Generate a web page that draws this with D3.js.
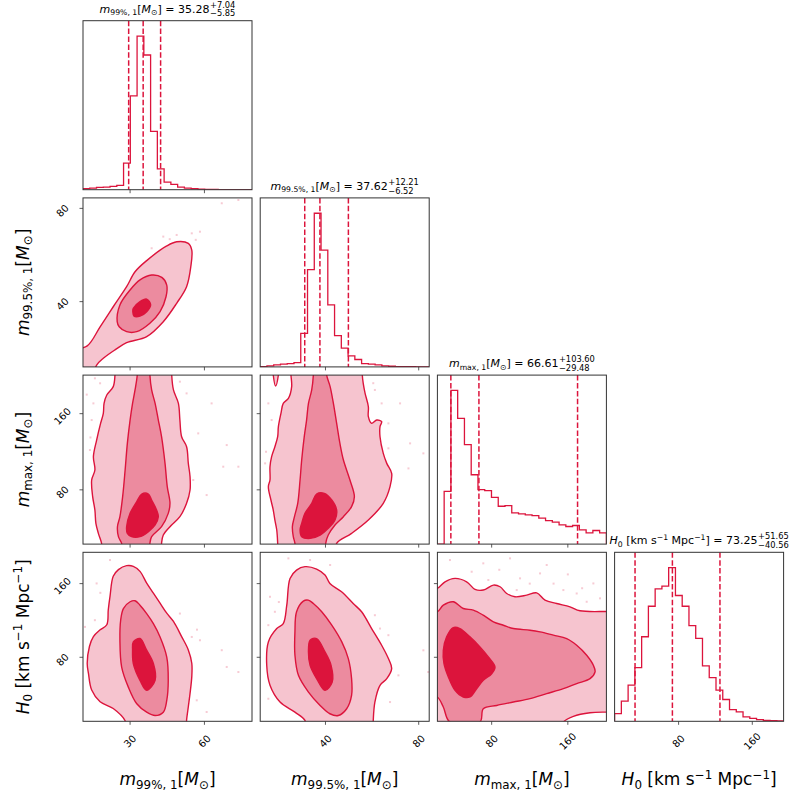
<!DOCTYPE html>
<html>
<head>
<meta charset="utf-8">
<script src="https://cdn.jsdelivr.net/npm/d3@7"></script>
<style>
  body { margin: 0; background: #fff; }
  text { font-family: "DejaVu Sans", sans-serif; white-space: pre; }
</style>
</head>
<body>
<svg id="chart" width="793" height="799"></svg>
<script>
// parameter ranges (axis limits) and ticks, in order m99, m99.5, mmax, H0
const ranges = [[11, 79.2], [12, 84.5], [23, 200.5], [10.5, 194]]
const ticks = [[30, 60], [40, 80], [80, 160], [80, 160]]

// axis labels as math tokens
const labels = [
  [["i", "m"], ["sub", "99%, 1"], ["n", "["], ["i", "M"], ["sub", "⊙"], ["n", "]"]],
  [["i", "m"], ["sub", "99.5%, 1"], ["n", "["], ["i", "M"], ["sub", "⊙"], ["n", "]"]],
  [["i", "m"], ["sub", "max, 1"], ["n", "["], ["i", "M"], ["sub", "⊙"], ["n", "]"]],
  [["i", "H"], ["sub", "0"], ["n", " [km s"], ["sup", "−1"], ["n", " Mpc"], ["sup", "−1"], ["n", "]"]]
]
const medians = ["35.28", "37.62", "66.61", "73.25"]
const errUp = ["+7.04", "+12.21", "+103.60", "+51.65"]
const errDown = ["−5.85", "−6.52", "−29.48", "−40.56"]
const quantiles = [[29.43, 35.28, 42.32], [31.10, 37.62, 49.83], [37.13, 66.61, 170.21], [32.69, 73.25, 124.90]]

// 1D histograms, 25 bins over each range
const hist_m99 = [3, 5, 7, 8, 10, 13, 80, 283, 463, 406, 176, 63, 23, 16, 8, 5, 3, 2, 1, 1, 0.5, 0.5, 0, 0, 0]
const hist_m995 = [1, 3, 6, 8, 10, 13, 100, 290, 458, 348, 185, 93, 56, 33, 22, 10, 8, 6, 3, 2, 1, 1, 0.5, 0, 0]
const hist_mmax = [0, 159, 463, 379, 300, 209, 164, 161, 141, 114, 116, 94, 91, 88, 86, 78, 71, 66, 58, 53, 56, 43, 34, 41, 34]
const hist_H0 = [23, 60, 108, 160, 252, 343, 395, 403, 458, 375, 343, 285, 247, 165, 130, 93, 65, 35, 28, 13, 9, 5, 3, 2, 1]
const hists = [hist_m99, hist_m995, hist_mmax, hist_H0]

// 2D credible contours [outer, middle, inner], each a list of polygons (x, y in data units)
const cont_m995_m99 = [
  [[[5, 18], [12.7, 21.0], [17.9, 29.2], [23.2, 37.8], [28.6, 46.4], [32.0, 52.8], [36.7, 57.6], [44.8, 63.9], [48.8, 65.7], [53.5, 65.0], [54.9, 62.1], [54.5, 55.0], [52.8, 46.4], [48.8, 39.3], [43.4, 31.4], [36.7, 25.0], [28.6, 22.4], [23.9, 19.3], [19.2, 15.7], [16.5, 12.8], [14, 6], [5, 6]]],
  [[[24.8, 31.4], [25.9, 38.6], [30.0, 45.0], [34.0, 49.3], [38.7, 51.4], [42.8, 50.4], [44.8, 47.1], [44.5, 42.1], [42.1, 35.7], [38.0, 30.7], [32.7, 27.1], [28.6, 27.1], [25.6, 29.2]]],
  [[[31.3, 37.1], [34.0, 40.0], [36.7, 41.1], [38.3, 38.6], [36.7, 35.7], [34.0, 33.8], [31.6, 33.8], [31.1, 35.7]]]
]
const cont_mmax_m99 = [
  [[[23.9, 209], [23.9, 200.6], [23.2, 188.4], [20.6, 179.6], [19.5, 170.8], [19.2, 160.3], [18.1, 149.8], [16.5, 132.3], [15.2, 114.8], [15.8, 100.8], [14.5, 90.3], [14.9, 72.8], [15.8, 58.8], [16.2, 44.8], [17.2, 34.3], [18.5, 23.8], [18.8, 15], [42.7, 15], [42.7, 23.8], [43.4, 32.5], [46.1, 41.3], [50.1, 51.8], [52.8, 65.8], [54.2, 79.8], [54.2, 93.8], [53.5, 107.8], [52.8, 125.3], [50.8, 135.8], [50.1, 153.3], [49.5, 170.8], [47.5, 184.9], [46.8, 200.6], [46.8, 209]]],
  [[[32.9, 209], [32.9, 200.6], [32.0, 184.9], [31.0, 170.8], [30.0, 153.3], [28.9, 128.8], [28.0, 100.8], [27.0, 72.8], [25.9, 51.8], [24.9, 41.3], [25.3, 30.8], [26.6, 23.8], [27, 15], [38, 15], [38.0, 23.8], [38.7, 30.8], [42.7, 41.3], [45.4, 55.3], [46.1, 65.8], [45.0, 83.3], [44.1, 107.8], [42.7, 135.8], [41.4, 153.3], [40.1, 170.8], [38.7, 184.9], [38.0, 200.6], [38, 209]]],
  [[[28.6, 41.3], [30.0, 55.3], [32.7, 67.6], [34.7, 75.6], [37.4, 75.6], [38.7, 69.3], [40.7, 58.8], [41.4, 51.8], [40.1, 43.1], [37.4, 36.1], [34.0, 30.8], [30.6, 30.8], [28.9, 34.3]]]
]
const cont_mmax_m995 = [
  [[[25.2, 209], [25.2, 200.6], [25.5, 188.4], [24.1, 176.1], [21.9, 170.8], [20.9, 160.3], [19.8, 146.3], [19.5, 135.8], [18.3, 125.3], [16.9, 114.8], [16.2, 104.3], [16.2, 90.3], [15.5, 83.3], [16.6, 69.3], [17.6, 58.8], [18.3, 48.3], [19.1, 37.8], [19.5, 23.8], [19.6, 15], [44.5, 15], [44.8, 23.8], [51.2, 34.3], [58.4, 48.3], [64.8, 65.8], [67.7, 83.3], [68.4, 97.3], [66.3, 107.8], [64.8, 118.3], [63.4, 135.8], [63.4, 146.3], [64.1, 151.6], [62.0, 153.3], [59.8, 149.8], [58.4, 156.8], [58.4, 167.3], [57.0, 181.3], [56.2, 191.8], [55.8, 200.6], [55.8, 209]],
   [[17.5, 209], [17.6, 200.6], [18.6, 189], [19.8, 200.6], [19.9, 209]]],
  [[[34.8, 209], [34.8, 200.6], [34.1, 184.9], [32.7, 170.8], [31.9, 153.3], [30.9, 135.8], [29.8, 111.3], [29.1, 90.3], [28.1, 65.8], [26.7, 51.8], [25.8, 41.3], [26.2, 30.8], [26.9, 23.8], [27, 15], [40, 15], [40.1, 23.8], [41.2, 32.5], [44.1, 43.1], [47.7, 51.8], [51.2, 62.3], [52.4, 72.8], [50.5, 90.3], [47.7, 111.3], [46.2, 128.8], [44.8, 149.8], [43.4, 170.8], [42.0, 188.4], [40.5, 200.6], [40.5, 209]]],
  [[[29.8, 44.8], [31.2, 55.3], [34.1, 65.8], [36.2, 75.6], [39.5, 76.3], [42.7, 69.3], [44.8, 58.8], [44.1, 48.3], [41.2, 39.6], [37.7, 32.5], [33.4, 29.0], [29.8, 30.8], [29.1, 37.8]]]
]
const cont_H0_m99 = [
  [[[28.5, 2], [28.0, 11.1], [23.2, 24.4], [17.9, 31.7], [14.5, 44.4], [13.2, 62.5], [12.7, 73.4], [13.6, 91.7], [15.2, 102.5], [17.9, 109.8], [20.6, 115.3], [21.2, 131.6], [21.9, 146.1], [23.2, 167.9], [25.3, 175.2], [28.6, 179.5], [31.3, 178.8], [34.0, 173.3], [36.7, 160.6], [39.4, 149.7], [42.1, 138.8], [44.8, 127.9], [47.5, 118.9], [50.8, 102.5], [53.5, 88.0], [54.9, 73.5], [54.9, 59.0], [54.2, 40.8], [53.5, 26.3], [52.8, 11.7], [52.7, 2]]],
  [[[30.0, 140.3], [32.0, 141.4], [34.0, 136.6], [36.7, 127.4], [39.4, 116.6], [42.1, 102.1], [44.8, 80.3], [45.4, 54.9], [44.8, 33.2], [43.4, 20.4], [40.1, 16.8], [36.7, 20.4], [32.7, 29.5], [29.3, 47.6], [26.6, 69.4], [25.9, 98.4], [26.2, 120.2], [27.3, 132.9]]],
  [[[31.3, 96.7], [34.0, 100.4], [36.7, 87.7], [39.4, 73.2], [40.1, 55.0], [36.7, 44.1], [34.0, 55.0], [31.3, 73.2], [31.0, 87.7]]]
]
const cont_H0_m995 = [
  [[[31.5, 2], [31.2, 11.5], [26.9, 20.5], [20.5, 31.4], [16.2, 49.6], [14.8, 71.3], [15.5, 96.7], [19.1, 111.2], [21.9, 116.6], [23.4, 136.6], [24.8, 165.6], [27.6, 174.7], [31.2, 178.4], [36.2, 175.8], [39.8, 169.3], [41.9, 160.2], [46.9, 151.1], [51.9, 138.4], [55.5, 129.4], [59.8, 111.2], [64.1, 93.1], [67.0, 78.6], [68.4, 67.7], [66.3, 56.8], [63.4, 49.6], [61.2, 31.4], [60.5, 11.4], [60.4, 2]]],
  [[[30.5, 141.0], [32.6, 142.1], [34.8, 138.4], [38.4, 129.4], [42.7, 114.9], [47.0, 96.7], [49.8, 78.6], [51.2, 56.8], [51.2, 38.6], [49.1, 24.1], [45.5, 16.8], [41.9, 18.7], [37.7, 27.7], [32.7, 42.2], [28.4, 60.4], [26.9, 82.2], [26.9, 107.6], [27.6, 129.4]]],
  [[[33.4, 98.5], [36.2, 100.3], [39.8, 85.8], [42.4, 71.3], [42.9, 53.2], [39.8, 44.1], [36.2, 56.8], [33.4, 71.3], [32.7, 85.8]]]
]
const cont_H0_mmax = [
  [[[15.2, 154.8], [22.9, 154.8], [31.0, 162.0], [41.5, 165.7], [53.7, 162.0], [62.5, 153.7], [71.2, 153.0], [81.8, 158.4], [88.8, 156.6], [95.8, 149.3], [104.5, 145.7], [116.8, 147.5], [127.3, 150.0], [136.0, 142.1], [148.3, 138.4], [162.3, 134.8], [172.8, 130.5], [200.1, 129.7], [211.3, 129.7], [211.3, 20.5], [200.1, 20.5], [183.3, 19.8], [165.8, 15.8], [155.3, 9.7], [151.8, 0.6], [15.2, 0.6]]],
  [[[15.2, 129.4], [22.9, 129.4], [29.2, 136.6], [39.7, 140.3], [50.2, 133.0], [60.7, 131.2], [71.2, 125.7], [81.8, 118.5], [92.3, 114.8], [102.8, 111.2], [120.3, 109.4], [130.8, 107.6], [144.8, 104.0], [158.8, 100.3], [169.3, 93.1], [179.8, 82.2], [186.8, 71.3], [188.6, 64.1], [183.3, 56.8], [169.3, 51.4], [155.3, 45.9], [137.8, 40.5], [120.3, 35.1], [102.8, 31.4], [85.3, 27.7], [71.2, 24.1], [67.7, 9.6], [36.2, 9.6], [29.2, 26.0], [22.9, 36.9], [15.2, 36.9]]],
  [[[32.7, 102.2], [39.7, 112.3], [46.7, 111.2], [57.2, 102.2], [67.7, 91.3], [76.5, 80.4], [83.5, 69.5], [80.0, 62.2], [71.2, 55.0], [64.2, 45.9], [57.2, 36.9], [50.2, 36.9], [41.5, 44.1], [34.5, 58.7], [29.9, 73.2], [29.2, 87.7]]]
]

// stray samples outside the outer contour
const pts_m995_m99 = [[43.4, 67.9], [48.8, 68.6], [54.9, 69.3], [58.2, 70.0], [52.8, 63.6], [67.0, 82.2], [73.7, 83.6], [38.7, 62.9], [56.5, 66.5], [46, 66.8]]
const pts_mmax_m99 = [[15.8, 197.1], [17.9, 191.9], [15.2, 170.8], [14.5, 153.3], [13.8, 121.8], [50.1, 193.6], [52.8, 181.3], [57.5, 139.3], [62.9, 170.8], [69.0, 127.0], [73.7, 104.3], [67.6, 104.3], [55.5, 90.3], [60.9, 74.5], [12.5, 180], [14, 135]]
const pts_mmax_m995 = [[15.5, 170.8], [16.9, 153.3], [61.2, 184.9], [64.1, 170.8], [67.0, 149.8], [72.0, 170.8], [76.3, 128.8], [82.0, 118.3], [75.6, 102.5], [67.0, 123.6], [14.1, 107.8], [60.5, 192], [14.5, 120]]
const pts_H0_m99 = [[16.5, 160.2], [15.8, 120.3], [21.9, 185.6], [50.1, 127.5], [54.9, 102.1], [58.2, 98.5], [67.0, 87.7], [69.0, 69.5], [73.7, 64.0], [60.9, 20.6], [56.9, 33.3], [11.8, 113.0], [18, 150], [57, 110]]
const pts_H0_m995 = [[24.1, 187.4], [33.4, 185.6], [42.0, 180.2], [16.2, 145.7], [18.3, 129.4], [15.5, 114.9], [61.2, 125.7], [63.4, 111.2], [67.0, 104.0], [82.0, 87.6], [84.1, 64.0], [71.3, 60.4], [67.7, 31.4], [15.5, 35.0], [20, 140]]
const pts_H0_mmax = [[36.2, 185.6], [59.0, 172.9], [71.2, 182.0], [99.3, 187.4], [109.8, 165.7], [130.8, 171.1], [137.8, 180.2], [155.3, 153.0], [169.3, 149.3], [179.8, 140.3], [193.8, 144.0], [106.3, 153.0], [76.5, 163.9], [186.8, 160.2], [120, 160], [145, 160], [88, 175], [160, 170], [175, 155]]

const pairs = [
  { row: 1, col: 0, c: cont_m995_m99, p: pts_m995_m99 },
  { row: 2, col: 0, c: cont_mmax_m99, p: pts_mmax_m99 },
  { row: 2, col: 1, c: cont_mmax_m995, p: pts_mmax_m995 },
  { row: 3, col: 0, c: cont_H0_m99, p: pts_H0_m99 },
  { row: 3, col: 1, c: cont_H0_m995, p: pts_H0_m995 },
  { row: 3, col: 2, c: cont_H0_mmax, p: pts_H0_mmax }
]

// layout
const L = 83, T = 20.7, S = 169, G = 177.2
const crimson = "#dc143c"
const fills = ["#f6c4cf", "#ec8b9f", "#dc143c"]
const axisCol = "#333"

const svg = d3.select("#chart")
svg.append("rect").attr("width", 793).attr("height", 799).attr("fill", "#fff")

function mathText(sel, tokens, size) {
  let cur = 0
  tokens.forEach(([k, t]) => {
    const small = k === "sub" || k === "sup"
    const target = k === "sub" ? size * 0.22 : k === "sup" ? -size * 0.38 : 0
    sel.append("tspan")
      .text(t)
      .attr("dy", target - cur)
      .attr("font-size", small ? size * 0.7 : size)
      .attr("font-style", k === "i" ? "italic" : "normal")
    cur = target
  })
}

function xScale(j) { return d3.scaleLinear().domain(ranges[j]).range([0, S]) }
function yScale(i) { return d3.scaleLinear().domain(ranges[i]).range([S, 0]) }

function panel(i, j) {
  const g = svg.append("g").attr("transform", `translate(${L + j * G},${T + i * G})`)
  const id = `clip${i}${j}`
  g.append("clipPath").attr("id", id).append("rect").attr("width", S).attr("height", S)
  const inner = g.append("g").attr("clip-path", `url(#${id})`)
  return { g, inner }
}

function frame(g, i, j, diag) {
  const x = xScale(j)
  g.append("rect").attr("width", S).attr("height", S)
    .attr("fill", "none").attr("stroke", axisCol).attr("stroke-width", 1)
  ticks[j].forEach(t => {
    g.append("line").attr("x1", x(t)).attr("x2", x(t)).attr("y1", S).attr("y2", S + 3.5)
      .attr("stroke", axisCol).attr("stroke-width", 0.8)
    if (i === 3) {
      g.append("text").attr("transform", `translate(${x(t)},${S + 20}) rotate(-45)`)
        .attr("text-anchor", "middle").attr("dominant-baseline", "central")
        .attr("font-size", 10).text(t)
    }
  })
  if (!diag) {
    const y = yScale(i)
    ticks[i].forEach(t => {
      g.append("line").attr("x1", 0).attr("x2", -3.5).attr("y1", y(t)).attr("y2", y(t))
        .attr("stroke", axisCol).attr("stroke-width", 0.8)
      if (j === 0) {
        g.append("text").attr("transform", `translate(-20.5,${y(t) + 2.5}) rotate(-45)`)
          .attr("text-anchor", "middle").attr("dominant-baseline", "central")
          .attr("font-size", 10).text(t)
      }
    })
  }
}

// diagonal histograms
hists.forEach((h, k) => {
  const { g, inner } = panel(k, k)
  const x = xScale(k)
  const y = d3.scaleLinear().domain([0, d3.max(h) * 1.1]).range([S, 0])
  const [lo, hi] = ranges[k]
  const edges = d3.range(h.length + 1).map(b => lo + b * (hi - lo) / h.length)
  const pts = [[edges[0], 0]]
  h.forEach((v, b) => { pts.push([edges[b], v], [edges[b + 1], v]) })
  pts.push([edges[h.length], 0])
  inner.append("path")
    .attr("d", d3.line().x(d => x(d[0])).y(d => y(d[1]))(pts))
    .attr("fill", "none").attr("stroke", crimson).attr("stroke-width", 1.3)
  quantiles[k].forEach(q => {
    inner.append("line").attr("x1", x(q)).attr("x2", x(q)).attr("y1", 0).attr("y2", S)
      .attr("stroke", crimson).attr("stroke-width", 1.5).attr("stroke-dasharray", "5.5,2.4")
  })
  frame(g, k, k, true)

  // title with stacked errors
  const tg = svg.append("g")
  const tt = tg.append("text").attr("font-size", 11)
  mathText(tt, labels[k].concat([["n", " = " + medians[k]]]), 11)
  const w = tt.node().getComputedTextLength()
  const up = tg.append("text").attr("x", w + 0.5).attr("y", -5.2).attr("font-size", 8.3).text(errUp[k])
  const dn = tg.append("text").attr("x", w + 0.5).attr("y", 3.6).attr("font-size", 8.3).text(errDown[k])
  const total = w + 0.5 + Math.max(up.node().getComputedTextLength(), dn.node().getComputedTextLength())
  tg.attr("transform", `translate(${L + k * G + S / 2 - total / 2},${T + k * G - 8})`)
})

// 2D panels
pairs.forEach(({ row, col, c, p }) => {
  const { g, inner } = panel(row, col)
  const x = xScale(col), y = yScale(row)
  inner.selectAll("rect.pt").data(p).join("rect").attr("class", "pt")
    .attr("x", d => x(d[0]) - 1).attr("y", d => y(d[1]) - 1)
    .attr("width", 2).attr("height", 2).attr("fill", crimson).attr("opacity", 0.22)
  const line = d3.line().x(d => x(d[0])).y(d => y(d[1])).curve(d3.curveCatmullRomClosed.alpha(0.5))
  c.forEach((level, li) => {
    level.forEach(poly => {
      inner.append("path").attr("d", line(poly)).attr("fill", fills[li]).attr("stroke", "none")
    })
  })
  c.forEach(level => {
    level.forEach(poly => {
      inner.append("path").attr("d", line(poly)).attr("fill", "none")
        .attr("stroke", crimson).attr("stroke-width", 1.4)
    })
  })
  frame(g, row, col, false)
})

// axis labels
labels.forEach((lab, k) => {
  const t = svg.append("text").attr("x", L + k * G + S / 2).attr("y", 785)
    .attr("text-anchor", "middle").attr("font-size", 17)
  mathText(t, lab, 17)
})
labels.slice(1).forEach((lab, n) => {
  const i = n + 1
  const t = svg.append("text")
    .attr("transform", `translate(28.5,${T + i * G + S / 2}) rotate(-90)`)
    .attr("text-anchor", "middle").attr("font-size", 17)
  mathText(t, lab, 17)
})
</script>
</body>
</html>
